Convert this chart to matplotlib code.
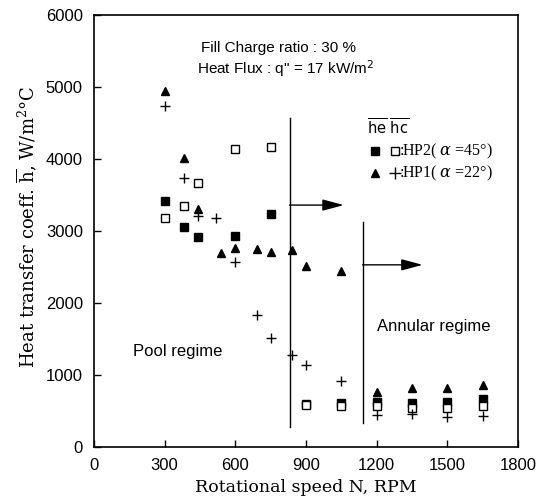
import matplotlib
matplotlib.use("Agg")
import matplotlib.pyplot as plt

plt.rcParams['mathtext.fontset'] = 'dejavuserif'

# ---- data ----
hp2_he_x = [300, 380, 440, 600, 750, 900, 1050, 1200, 1350, 1500, 1650]
hp2_he_y = [3420, 3060, 2910, 2930, 3240, 600, 610, 630, 615, 630, 660]
hp2_hc_x = [300, 380, 440, 600, 750, 900, 1050, 1200, 1350, 1500, 1650]
hp2_hc_y = [3180, 3350, 3670, 4140, 4160, 580, 570, 570, 540, 540, 570]
hp1_he_x = [300, 380, 440, 540, 600, 690, 750, 840, 900, 1050, 1200, 1350, 1500, 1650]
hp1_he_y = [4950, 4010, 3300, 2700, 2760, 2750, 2710, 2740, 2520, 2450, 770, 815, 825, 860]
hp1_hc_x = [300, 380, 440, 520, 600, 690, 750, 840, 900, 1050, 1200, 1350, 1500, 1650]
hp1_hc_y = [4730, 3740, 3210, 3180, 2570, 1830, 1520, 1280, 1140, 910, 445, 460, 420, 430]

x_ticks = [0, 300, 600, 900, 1200, 1500, 1800]
y_ticks = [0, 1000, 2000, 3000, 4000, 5000, 6000]

fig = plt.figure(figsize=(5.39, 5.0), dpi=100)
ax = fig.add_axes([0.1744, 0.106, 0.7866, 0.864])

ax.plot(hp2_he_x, hp2_he_y, 's', color='black', markersize=5.2, linestyle='none')
ax.plot(hp2_hc_x, hp2_hc_y, 's', markerfacecolor='white', markeredgecolor='black',
        markeredgewidth=1.0, markersize=6, linestyle='none')
ax.plot(hp1_he_x, hp1_he_y, '^', color='black', markersize=6, linestyle='none')
ax.plot(hp1_hc_x, hp1_hc_y, '+', color='black', markersize=7.5, markeredgewidth=1.0,
        linestyle='none')

# regime boundaries
ax.plot([830, 830], [280, 4570], color='black', lw=1.0)
ax.plot([1140, 1140], [330, 3130], color='black', lw=1.0)
arrow_kw = dict(arrowstyle='-|>,head_length=1.3,head_width=0.35', color='black', lw=1.0,
                shrinkA=0, shrinkB=0)
ax.annotate('', xy=(1060, 3360), xytext=(830, 3360), arrowprops=arrow_kw)
ax.annotate('', xy=(1395, 2530), xytext=(1140, 2530), arrowprops=arrow_kw)

sans = ['Liberation Sans', 'DejaVu Sans']
ax.text(785, 5540, 'Fill Charge ratio : 30 %', ha='center', va='center',
        fontsize=11, family=sans)
ax.text(815, 5260, 'Heat Flux : q" = 17 kW/m$^\\mathsf{2}$', ha='center', va='center',
        fontsize=11, family=sans)
ax.text(165, 1320, 'Pool regime', ha='left', va='center', fontsize=12, family=sans)
ax.text(1200, 1680, 'Annular regime', ha='left', va='center', fontsize=12, family=sans)

# legend drawn by hand
ax.text(1160, 4440, r'$\overline{\mathsf{he}}\ \overline{\mathsf{hc}}$', ha='left',
        va='center', fontsize=10.5)
ax.plot([1193], [4110], 's', color='black', markersize=5.2)
ax.plot([1278], [4110], 's', markerfacecolor='white', markeredgecolor='black',
        markersize=6)
ax.text(1295, 4110, r':HP2( $\alpha$ =45°)', ha='left', va='center', fontsize=11.5,
        family='Liberation Serif')
ax.plot([1193], [3805], '^', color='black', markersize=6)
ax.plot([1278], [3805], '+', color='black', markersize=9, markeredgewidth=1.0)
ax.text(1295, 3805, r':HP1( $\alpha$ =22°)', ha='left', va='center', fontsize=11.5,
        family='Liberation Serif')

ax.set_xlim(0, 1800)
ax.set_ylim(0, 6000)
ax.set_xticks(x_ticks)
ax.set_yticks(y_ticks)
ax.tick_params(direction='in', length=5, width=1, labelsize=12)
ax.tick_params(axis='x', pad=8)
ax.tick_params(axis='y', pad=8)
for lab in ax.get_xticklabels() + ax.get_yticklabels():
    lab.set_family(sans)
for s in ax.spines.values():
    s.set_linewidth(1.2)

ax.set_xlabel('Rotational speed N, RPM', family='DejaVu Serif', fontsize=12.5)
ax.set_ylabel(r'Heat transfer coeff. $\overline{\mathrm{h}}$, W/m$^2$°C',
              family='DejaVu Serif', fontsize=13)
ax.xaxis.set_label_coords(0.5, -0.075)
ax.yaxis.set_label_coords(-0.13, 0.51)

fig.savefig('out.png', dpi=100)
